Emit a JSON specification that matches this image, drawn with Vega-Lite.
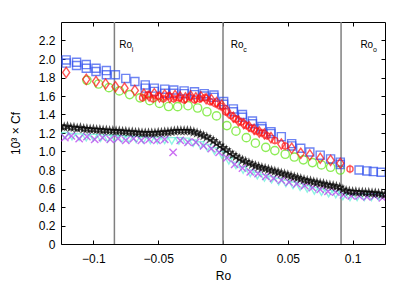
{
  "$schema": "https://vega.github.io/schema/vega-lite/v6.json",
  "width": 324,
  "height": 222,
  "autosize": {"type": "none"},
  "padding": {"left": 61, "top": 22, "right": 10, "bottom": 44},
  "background": "white",
  "config": {
    "font": "Liberation Sans",
    "view": {"stroke": "black", "strokeWidth": 1},
    "axis": {
      "domain": false,
      "grid": false,
      "ticks": true,
      "tickColor": "black",
      "tickSize": 4,
      "offset": -4,
      "tickWidth": 1,
      "zindex": 1,
      "labelFont": "Liberation Sans",
      "labelFontSize": 12,
      "labelColor": "black",
      "titleFont": "Liberation Sans",
      "titleFontSize": 12,
      "titleFontWeight": "normal",
      "titleColor": "black"
    }
  },
  "datasets": {
    "vlines": [{"x": -0.0838}, {"x": 0}, {"x": 0.0911}],
    "labels": [
      {"x": -0.0801, "y": 2.124, "t": "Ro", "sub": "i"},
      {"x": 0.006, "y": 2.124, "t": "Ro", "sub": "c"},
      {"x": 0.106, "y": 2.124, "t": "Ro", "sub": "o"}
    ],
    "pts": [
      {"s": "G", "x": -0.105, "y": 1.77}, {"s": "G", "x": -0.096, "y": 1.73}, {"s": "G", "x": -0.088, "y": 1.69}, {"s": "G", "x": -0.080, "y": 1.655},
      {"s": "G", "x": -0.072, "y": 1.615}, {"s": "G", "x": -0.064, "y": 1.58}, {"s": "G", "x": -0.0565, "y": 1.55}, {"s": "G", "x": -0.049, "y": 1.52},
      {"s": "G", "x": -0.042, "y": 1.486}, {"s": "G", "x": -0.035, "y": 1.485}, {"s": "G", "x": -0.027, "y": 1.495}, {"s": "G", "x": -0.0196, "y": 1.47},
      {"s": "G", "x": -0.0124, "y": 1.43}, {"s": "G", "x": -0.005, "y": 1.385}, {"s": "G", "x": 0.003, "y": 1.28}, {"s": "G", "x": 0.010, "y": 1.22},
      {"s": "G", "x": 0.018, "y": 1.15}, {"s": "G", "x": 0.025, "y": 1.09}, {"s": "G", "x": 0.033, "y": 1.045}, {"s": "G", "x": 0.040, "y": 1.01},
      {"s": "G", "x": 0.048, "y": 0.97}, {"s": "G", "x": 0.055, "y": 0.94}, {"s": "G", "x": 0.062, "y": 0.91}, {"s": "G", "x": 0.069, "y": 0.88},
      {"s": "G", "x": 0.076, "y": 0.855}, {"s": "G", "x": 0.083, "y": 0.83}, {"s": "G", "x": 0.0905, "y": 0.80},

      {"s": "B", "x": -0.121, "y": 1.99}, {"s": "B", "x": -0.113, "y": 1.965}, {"s": "B", "x": -0.1055, "y": 1.94}, {"s": "B", "x": -0.098, "y": 1.90},
      {"s": "B", "x": -0.090, "y": 1.875}, {"s": "B", "x": -0.083, "y": 1.83}, {"s": "B", "x": -0.075, "y": 1.79}, {"s": "B", "x": -0.068, "y": 1.757},
      {"s": "B", "x": -0.060, "y": 1.72}, {"s": "B", "x": -0.053, "y": 1.685}, {"s": "B", "x": -0.045, "y": 1.674}, {"s": "B", "x": -0.038, "y": 1.665},
      {"s": "B", "x": -0.030, "y": 1.655}, {"s": "B", "x": -0.022, "y": 1.645}, {"s": "B", "x": -0.0145, "y": 1.625}, {"s": "B", "x": -0.007, "y": 1.61},
      {"s": "B", "x": 0.0005, "y": 1.54}, {"s": "B", "x": 0.008, "y": 1.46}, {"s": "B", "x": 0.015, "y": 1.40}, {"s": "B", "x": 0.0227, "y": 1.33},
      {"s": "B", "x": 0.030, "y": 1.27}, {"s": "B", "x": 0.037, "y": 1.215}, {"s": "B", "x": 0.045, "y": 1.16}, {"s": "B", "x": 0.053, "y": 1.085},
      {"s": "B", "x": 0.060, "y": 1.035}, {"s": "B", "x": 0.067, "y": 0.995}, {"s": "B", "x": 0.075, "y": 0.96}, {"s": "B", "x": 0.083, "y": 0.92},
      {"s": "B", "x": 0.0905, "y": 0.885}, {"s": "B", "x": 0.105, "y": 0.80}, {"s": "B", "x": 0.111, "y": 0.79}, {"s": "B", "x": 0.116, "y": 0.783},
      {"s": "B", "x": 0.122, "y": 0.776},
      {"s": "B", "x": -0.121, "y": 1.956}, {"s": "B", "x": -0.113, "y": 1.93}, {"s": "B", "x": -0.1055, "y": 1.90}, {"s": "B", "x": -0.098, "y": 1.865},
      {"s": "B", "x": -0.090, "y": 1.83}, {"s": "B", "x": -0.060, "y": 1.685}, {"s": "B", "x": -0.053, "y": 1.65}, {"s": "B", "x": -0.045, "y": 1.63},
      {"s": "B", "x": -0.038, "y": 1.63}, {"s": "B", "x": -0.030, "y": 1.625}, {"s": "B", "x": -0.022, "y": 1.615}, {"s": "B", "x": -0.0145, "y": 1.60},
      {"s": "B", "x": -0.007, "y": 1.585}, {"s": "B", "x": 0.0005, "y": 1.51}, {"s": "B", "x": 0.008, "y": 1.43}, {"s": "B", "x": 0.015, "y": 1.37},
      {"s": "B", "x": 0.0227, "y": 1.30}, {"s": "B", "x": 0.030, "y": 1.245}, {"s": "B", "x": 0.037, "y": 1.195}, {"s": "B", "x": 0.053, "y": 1.06},
      {"s": "B", "x": 0.0905, "y": 0.86},

      {"s": "R", "x": -0.121, "y": 1.855}, {"s": "R", "x": -0.1055, "y": 1.78}, {"s": "R", "x": -0.098, "y": 1.757}, {"s": "R", "x": -0.0906, "y": 1.73},
      {"s": "R", "x": -0.083, "y": 1.70}, {"s": "R", "x": -0.076, "y": 1.685}, {"s": "R", "x": -0.068, "y": 1.66}, {"s": "R", "x": -0.061, "y": 1.62},
      {"s": "R", "x": -0.057, "y": 1.60}, {"s": "R", "x": -0.053, "y": 1.625}, {"s": "R", "x": -0.049, "y": 1.59}, {"s": "R", "x": -0.045, "y": 1.61},
      {"s": "R", "x": -0.041, "y": 1.585}, {"s": "R", "x": -0.037, "y": 1.605}, {"s": "R", "x": -0.033, "y": 1.59}, {"s": "R", "x": -0.029, "y": 1.58},
      {"s": "R", "x": -0.025, "y": 1.60}, {"s": "R", "x": -0.021, "y": 1.58}, {"s": "R", "x": -0.017, "y": 1.59}, {"s": "R", "x": -0.013, "y": 1.57},
      {"s": "R", "x": -0.009, "y": 1.56}, {"s": "R", "x": -0.005, "y": 1.53}, {"s": "R", "x": -0.001, "y": 1.50}, {"s": "R", "x": 0.003, "y": 1.44},
      {"s": "R", "x": 0.008, "y": 1.37}, {"s": "R", "x": 0.012, "y": 1.33}, {"s": "R", "x": 0.016, "y": 1.30}, {"s": "R", "x": 0.020, "y": 1.27},
      {"s": "R", "x": 0.024, "y": 1.24}, {"s": "R", "x": 0.028, "y": 1.21}, {"s": "R", "x": 0.032, "y": 1.19}, {"s": "R", "x": 0.037, "y": 1.15},
      {"s": "R", "x": 0.045, "y": 1.08}, {"s": "R", "x": 0.053, "y": 1.035}, {"s": "R", "x": 0.060, "y": 0.98}, {"s": "R", "x": 0.067, "y": 0.963},
      {"s": "R", "x": 0.075, "y": 0.927}, {"s": "R", "x": 0.083, "y": 0.905}, {"s": "R", "x": 0.0905, "y": 0.873},

      {"s": "R2", "x": -0.062, "y": 1.58}, {"s": "R2", "x": -0.058, "y": 1.61}, {"s": "R2", "x": -0.054, "y": 1.57}, {"s": "R2", "x": -0.050, "y": 1.60},
      {"s": "R2", "x": -0.046, "y": 1.57}, {"s": "R2", "x": -0.042, "y": 1.60}, {"s": "R2", "x": -0.038, "y": 1.57}, {"s": "R2", "x": -0.034, "y": 1.58},
      {"s": "R2", "x": -0.030, "y": 1.56}, {"s": "R2", "x": -0.026, "y": 1.59}, {"s": "R2", "x": -0.022, "y": 1.56}, {"s": "R2", "x": -0.018, "y": 1.57},
      {"s": "R2", "x": -0.014, "y": 1.58}, {"s": "R2", "x": -0.010, "y": 1.54}, {"s": "R2", "x": -0.006, "y": 1.52}, {"s": "R2", "x": -0.002, "y": 1.49},
      {"s": "R2", "x": 0.002, "y": 1.43}, {"s": "R2", "x": 0.006, "y": 1.39}, {"s": "R2", "x": 0.010, "y": 1.35}, {"s": "R2", "x": 0.014, "y": 1.32},
      {"s": "R2", "x": 0.018, "y": 1.28}, {"s": "R2", "x": 0.022, "y": 1.25}, {"s": "R2", "x": 0.026, "y": 1.22}, {"s": "R2", "x": 0.030, "y": 1.20},
      {"s": "R2", "x": 0.034, "y": 1.17}, {"s": "R2", "x": 0.040, "y": 1.12}, {"s": "R2", "x": 0.048, "y": 1.06}, {"s": "R2", "x": 0.098, "y": 0.81},

      {"s": "C", "x": -0.122, "y": 1.17}, {"s": "C", "x": -0.1165, "y": 1.16}, {"s": "C", "x": -0.111, "y": 1.155}, {"s": "C", "x": -0.1055, "y": 1.15},
      {"s": "C", "x": -0.100, "y": 1.15}, {"s": "C", "x": -0.0945, "y": 1.145}, {"s": "C", "x": -0.089, "y": 1.14}, {"s": "C", "x": -0.0835, "y": 1.14},
      {"s": "C", "x": -0.078, "y": 1.135}, {"s": "C", "x": -0.0725, "y": 1.13}, {"s": "C", "x": -0.067, "y": 1.13}, {"s": "C", "x": -0.0615, "y": 1.125},
      {"s": "C", "x": -0.056, "y": 1.12}, {"s": "C", "x": -0.0505, "y": 1.12}, {"s": "C", "x": -0.045, "y": 1.12}, {"s": "C", "x": -0.0395, "y": 1.115},
      {"s": "C", "x": -0.034, "y": 1.115}, {"s": "C", "x": -0.0285, "y": 1.11}, {"s": "C", "x": -0.023, "y": 1.09}, {"s": "C", "x": -0.0175, "y": 1.07},
      {"s": "C", "x": -0.012, "y": 1.04}, {"s": "C", "x": -0.0065, "y": 1.005}, {"s": "C", "x": -0.001, "y": 0.965}, {"s": "C", "x": 0.0045, "y": 0.90},
      {"s": "C", "x": 0.010, "y": 0.85}, {"s": "C", "x": 0.0155, "y": 0.80}, {"s": "C", "x": 0.021, "y": 0.765}, {"s": "C", "x": 0.0265, "y": 0.74},
      {"s": "C", "x": 0.032, "y": 0.715}, {"s": "C", "x": 0.0375, "y": 0.695}, {"s": "C", "x": 0.043, "y": 0.675}, {"s": "C", "x": 0.0485, "y": 0.655},
      {"s": "C", "x": 0.054, "y": 0.635}, {"s": "C", "x": 0.0595, "y": 0.615}, {"s": "C", "x": 0.065, "y": 0.595}, {"s": "C", "x": 0.0705, "y": 0.575},
      {"s": "C", "x": 0.076, "y": 0.56}, {"s": "C", "x": 0.0815, "y": 0.545}, {"s": "C", "x": 0.087, "y": 0.535}, {"s": "C", "x": 0.0925, "y": 0.515},
      {"s": "C", "x": 0.098, "y": 0.505}, {"s": "C", "x": 0.1035, "y": 0.505}, {"s": "C", "x": 0.109, "y": 0.505}, {"s": "C", "x": 0.1145, "y": 0.505},
      {"s": "C", "x": 0.120, "y": 0.51},

      {"s": "M", "x": -0.122, "y": 1.15}, {"s": "M", "x": -0.117, "y": 1.17}, {"s": "M", "x": -0.111, "y": 1.14}, {"s": "M", "x": -0.105, "y": 1.16},
      {"s": "M", "x": -0.099, "y": 1.13}, {"s": "M", "x": -0.093, "y": 1.15}, {"s": "M", "x": -0.087, "y": 1.13}, {"s": "M", "x": -0.081, "y": 1.14},
      {"s": "M", "x": -0.075, "y": 1.12}, {"s": "M", "x": -0.069, "y": 1.14}, {"s": "M", "x": -0.063, "y": 1.12}, {"s": "M", "x": -0.057, "y": 1.13},
      {"s": "M", "x": -0.051, "y": 1.12}, {"s": "M", "x": -0.045, "y": 1.13}, {"s": "M", "x": -0.0385, "y": 0.99}, {"s": "M", "x": -0.033, "y": 1.12},
      {"s": "M", "x": -0.027, "y": 1.10}, {"s": "M", "x": -0.021, "y": 1.10}, {"s": "M", "x": -0.015, "y": 1.06}, {"s": "M", "x": -0.009, "y": 1.03},
      {"s": "M", "x": -0.003, "y": 0.99}, {"s": "M", "x": 0.003, "y": 0.93}, {"s": "M", "x": 0.009, "y": 0.86}, {"s": "M", "x": 0.015, "y": 0.82},
      {"s": "M", "x": 0.021, "y": 0.78}, {"s": "M", "x": 0.027, "y": 0.76}, {"s": "M", "x": 0.033, "y": 0.73}, {"s": "M", "x": 0.039, "y": 0.71},
      {"s": "M", "x": 0.045, "y": 0.69}, {"s": "M", "x": 0.051, "y": 0.67}, {"s": "M", "x": 0.057, "y": 0.65}, {"s": "M", "x": 0.063, "y": 0.63},
      {"s": "M", "x": 0.069, "y": 0.61}, {"s": "M", "x": 0.075, "y": 0.59}, {"s": "M", "x": 0.081, "y": 0.57}, {"s": "M", "x": 0.087, "y": 0.56},
      {"s": "M", "x": 0.093, "y": 0.53}, {"s": "M", "x": 0.099, "y": 0.52}, {"s": "M", "x": 0.105, "y": 0.52}, {"s": "M", "x": 0.111, "y": 0.51},
      {"s": "M", "x": 0.117, "y": 0.52}, {"s": "M", "x": 0.123, "y": 0.50},

      {"s": "K", "x": -0.125, "y": 1.275}, {"s": "K", "x": -0.1225, "y": 1.265}, {"s": "K", "x": -0.12, "y": 1.27}, {"s": "K", "x": -0.1175, "y": 1.26},
      {"s": "K", "x": -0.115, "y": 1.26}, {"s": "K", "x": -0.1125, "y": 1.25}, {"s": "K", "x": -0.11, "y": 1.255}, {"s": "K", "x": -0.1075, "y": 1.245},
      {"s": "K", "x": -0.105, "y": 1.245}, {"s": "K", "x": -0.1025, "y": 1.24}, {"s": "K", "x": -0.1, "y": 1.24}, {"s": "K", "x": -0.0975, "y": 1.235},
      {"s": "K", "x": -0.095, "y": 1.235}, {"s": "K", "x": -0.0925, "y": 1.23}, {"s": "K", "x": -0.09, "y": 1.23}, {"s": "K", "x": -0.0875, "y": 1.225},
      {"s": "K", "x": -0.085, "y": 1.225}, {"s": "K", "x": -0.0825, "y": 1.22}, {"s": "K", "x": -0.08, "y": 1.22}, {"s": "K", "x": -0.0775, "y": 1.215},
      {"s": "K", "x": -0.075, "y": 1.215}, {"s": "K", "x": -0.0725, "y": 1.21}, {"s": "K", "x": -0.07, "y": 1.21}, {"s": "K", "x": -0.0675, "y": 1.205},
      {"s": "K", "x": -0.065, "y": 1.205}, {"s": "K", "x": -0.0625, "y": 1.2}, {"s": "K", "x": -0.06, "y": 1.2}, {"s": "K", "x": -0.0575, "y": 1.2},
      {"s": "K", "x": -0.055, "y": 1.2}, {"s": "K", "x": -0.0525, "y": 1.2}, {"s": "K", "x": -0.05, "y": 1.205}, {"s": "K", "x": -0.0475, "y": 1.205},
      {"s": "K", "x": -0.045, "y": 1.21}, {"s": "K", "x": -0.0425, "y": 1.21}, {"s": "K", "x": -0.04, "y": 1.215}, {"s": "K", "x": -0.0375, "y": 1.22},
      {"s": "K", "x": -0.035, "y": 1.225}, {"s": "K", "x": -0.0325, "y": 1.225}, {"s": "K", "x": -0.03, "y": 1.225}, {"s": "K", "x": -0.0275, "y": 1.225},
      {"s": "K", "x": -0.025, "y": 1.22}, {"s": "K", "x": -0.0225, "y": 1.21}, {"s": "K", "x": -0.02, "y": 1.2}, {"s": "K", "x": -0.0175, "y": 1.185},
      {"s": "K", "x": -0.015, "y": 1.17}, {"s": "K", "x": -0.0125, "y": 1.155}, {"s": "K", "x": -0.01, "y": 1.135}, {"s": "K", "x": -0.0075, "y": 1.115},
      {"s": "K", "x": -0.005, "y": 1.09}, {"s": "K", "x": -0.0025, "y": 1.065}, {"s": "K", "x": 0, "y": 1.04}, {"s": "K", "x": 0.0025, "y": 1.015},
      {"s": "K", "x": 0.005, "y": 0.99}, {"s": "K", "x": 0.0075, "y": 0.965}, {"s": "K", "x": 0.01, "y": 0.945}, {"s": "K", "x": 0.0125, "y": 0.925},
      {"s": "K", "x": 0.015, "y": 0.905}, {"s": "K", "x": 0.0175, "y": 0.89}, {"s": "K", "x": 0.02, "y": 0.875}, {"s": "K", "x": 0.0225, "y": 0.86},
      {"s": "K", "x": 0.025, "y": 0.845}, {"s": "K", "x": 0.0275, "y": 0.835}, {"s": "K", "x": 0.03, "y": 0.825}, {"s": "K", "x": 0.0325, "y": 0.815},
      {"s": "K", "x": 0.035, "y": 0.805}, {"s": "K", "x": 0.0375, "y": 0.795}, {"s": "K", "x": 0.04, "y": 0.785}, {"s": "K", "x": 0.0425, "y": 0.775},
      {"s": "K", "x": 0.045, "y": 0.765}, {"s": "K", "x": 0.0475, "y": 0.755}, {"s": "K", "x": 0.05, "y": 0.745}, {"s": "K", "x": 0.0525, "y": 0.735},
      {"s": "K", "x": 0.055, "y": 0.725}, {"s": "K", "x": 0.0575, "y": 0.715}, {"s": "K", "x": 0.06, "y": 0.705}, {"s": "K", "x": 0.0625, "y": 0.695},
      {"s": "K", "x": 0.065, "y": 0.685}, {"s": "K", "x": 0.0675, "y": 0.68}, {"s": "K", "x": 0.07, "y": 0.67}, {"s": "K", "x": 0.0725, "y": 0.665},
      {"s": "K", "x": 0.075, "y": 0.655}, {"s": "K", "x": 0.0775, "y": 0.65}, {"s": "K", "x": 0.08, "y": 0.64}, {"s": "K", "x": 0.0825, "y": 0.635},
      {"s": "K", "x": 0.085, "y": 0.63}, {"s": "K", "x": 0.0875, "y": 0.62}, {"s": "K", "x": 0.09, "y": 0.61}, {"s": "K", "x": 0.0925, "y": 0.59},
      {"s": "K", "x": 0.095, "y": 0.575}, {"s": "K", "x": 0.0975, "y": 0.57}, {"s": "K", "x": 0.1, "y": 0.565}, {"s": "K", "x": 0.1025, "y": 0.565},
      {"s": "K", "x": 0.105, "y": 0.56}, {"s": "K", "x": 0.1075, "y": 0.56}, {"s": "K", "x": 0.11, "y": 0.555}, {"s": "K", "x": 0.1125, "y": 0.555},
      {"s": "K", "x": 0.115, "y": 0.55}, {"s": "K", "x": 0.1175, "y": 0.55}, {"s": "K", "x": 0.12, "y": 0.545}, {"s": "K", "x": 0.1225, "y": 0.54},
      {"s": "K", "x": 0.125, "y": 0.535}
    ]
  },
  "layer": [
    {
      "data": {"name": "vlines"},
      "mark": {"type": "rule", "color": "#7f7f7f", "strokeWidth": 1.5},
      "encoding": {
        "x": {"field": "x", "type": "quantitative", "scale": {"domain": [-0.125, 0.125], "nice": false, "zero": false},
              "axis": {"orient": "top", "labels": false, "title": null, "values": [-0.1, -0.05, 0, 0.05, 0.1]}}
      }
    },
    {
      "data": {"name": "pts"},
      "mark": {"type": "point", "filled": false, "strokeWidth": 1.4, "clip": true},
      "encoding": {
        "x": {"field": "x", "type": "quantitative", "scale": {"domain": [-0.125, 0.125], "nice": false, "zero": false},
              "axis": {"orient": "bottom", "title": "Ro", "values": [-0.1, -0.05, 0, 0.05, 0.1], "format": "~g", "labelPadding": 9, "titlePadding": 6}},
        "y": {"field": "y", "type": "quantitative", "scale": {"domain": [0, 2.4], "nice": false},
              "axis": {"orient": "left", "title": "10³ × Cf", "values": [0, 0.2, 0.4, 0.6, 0.8, 1.0, 1.2, 1.4, 1.6, 1.8, 2.0, 2.2],
                       "labelExpr": "datum.value == 0 ? '0' : format(datum.value, '.1f')", "labelPadding": 6, "titlePadding": 16}},
        "color": {"field": "s", "type": "nominal", "legend": null,
                  "scale": {"domain": ["G", "B", "R", "R2", "C", "M", "K"],
                            "range": ["#5ee610", "#3050ee", "#ff1010", "#ff1010", "#5ff0d8", "#b533ee", "#000000"]}},
        "shape": {"field": "s", "type": "nominal", "legend": null,
                  "scale": {"domain": ["G", "B", "R", "R2", "C", "M", "K"],
                            "range": ["circle", "square", "M0,-1.3L0.9,0L0,1.3L-0.9,0Z", "M-0.8,0A0.8,0.8,0,1,1,0.8,0A0.8,0.8,0,1,1,-0.8,0M0,-1.1L0,1.1", "triangle-down", "M-1,-1L1,1M-1,1L1,-1", "M0,-1L0.2245,-0.309L0.951,-0.309L0.363,0.118L0.588,0.809L0,0.382L-0.588,0.809L-0.363,0.118L-0.951,-0.309L-0.2245,-0.309Z"]}},
        "size": {"field": "s", "type": "nominal", "legend": null,
                 "scale": {"domain": ["G", "B", "R", "R2", "C", "M", "K"],
                           "range": [68, 50, 43, 50, 40, 22, 34]}}
      }
    },
    {
      "data": {"name": "labels"},
      "mark": {"type": "text", "fontSize": 10, "align": "left", "baseline": "alphabetic", "color": "black", "font": "Liberation Sans"},
      "encoding": {
        "x": {"field": "x", "type": "quantitative", "axis": null},
        "y": {"field": "y", "type": "quantitative",
              "axis": {"orient": "right", "labels": false, "title": null, "values": [0, 0.2, 0.4, 0.6, 0.8, 1.0, 1.2, 1.4, 1.6, 1.8, 2.0, 2.2]}},
        "text": {"field": "t"}
      }
    },
    {
      "data": {"name": "labels"},
      "mark": {"type": "text", "fontSize": 7, "align": "left", "baseline": "alphabetic", "color": "black", "font": "Liberation Sans", "dx": 12.5, "dy": 4},
      "encoding": {
        "x": {"field": "x", "type": "quantitative", "axis": null},
        "y": {"field": "y", "type": "quantitative", "axis": null},
        "text": {"field": "sub"}
      }
    }
  ],
  "resolve": {"axis": {"x": "independent", "y": "independent"}}
}
